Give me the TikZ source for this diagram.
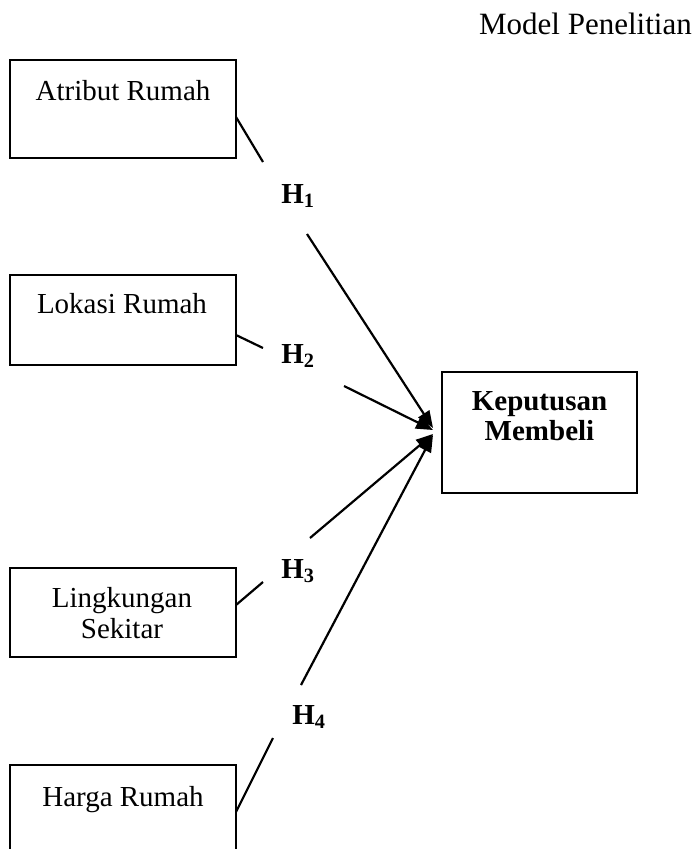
\documentclass[tikz,border=0pt]{standalone}
\usepackage{fontspec}
\setmainfont{Liberation Serif}
\usetikzlibrary{arrows.meta}
\begin{document}
\begin{tikzpicture}[x=1pt,y=-1pt,
  boxnode/.style={draw,line width=1.8pt,rectangle,inner sep=0pt},
  txt/.style={font=\fontsize{29}{31}\selectfont,inner sep=0pt,anchor=base,align=center},
  hyp/.style={font=\fontsize{29}{31}\selectfont\bfseries,inner sep=0pt,anchor=base},
  conn/.style={line width=2.2pt},
  arr/.style={line width=2.2pt,-{Triangle[length=17pt,width=13pt]}}]
\useasboundingbox (0,0) rectangle (697,849);
\clip (0,0) rectangle (697,849);
% boxes
\node[boxnode,minimum width=226pt,minimum height=98pt] (atr) at (123,109) {};
\node[boxnode,minimum width=226pt,minimum height=90pt] (lok) at (123,320) {};
\node[boxnode,minimum width=226pt,minimum height=89pt] (lin) at (123,612.5) {};
\node[boxnode,minimum width=226pt,minimum height=100pt] (har) at (123,815) {};
\node[boxnode,minimum width=195pt,minimum height=121pt] (kep) at (539.5,432.5) {};
% texts
\node[txt] (tatr) at (123,100) {Atribut Rumah};
\node[txt] (tlok) at (122,313) {Lokasi Rumah};
\node[txt] (tlin1) at (122,607) {Lingkungan};
\node[txt] (tlin2) at (122,638) {Sekitar};
\node[txt] (thar) at (123,806) {Harga Rumah};
\node[txt,font=\fontsize{29}{31}\selectfont\bfseries] (tkep1) at (539.5,410) {Keputusan};
\node[txt,font=\fontsize{29}{31}\selectfont\bfseries] (tkep2) at (539.5,440) {Membeli};
\node[txt,font=\fontsize{31}{33}\selectfont,anchor=base east] (title) at (692,34) {Model Penelitian};
% hypothesis labels
\node[hyp] (h1) at (298,203) {H\textsubscript{1}};
\node[hyp] (h2) at (298,363) {H\textsubscript{2}};
\node[hyp] (h3) at (298,578) {H\textsubscript{3}};
\node[hyp] (h4) at (309,724) {H\textsubscript{4}};
% connector points
\coordinate (a1) at (236,117);
\coordinate (b1) at (263,162);
\coordinate (c1) at (307,234);
\coordinate (t1) at (433,428);
\coordinate (a2) at (236,335);
\coordinate (b2) at (263,348);
\coordinate (c2) at (344,386);
\coordinate (t2) at (433,430);
\coordinate (a3) at (236,605);
\coordinate (b3) at (263,582);
\coordinate (c3) at (310,538);
\coordinate (t3) at (433,434);
\coordinate (a4) at (236,812);
\coordinate (b4) at (273,738);
\coordinate (c4) at (301,685);
\coordinate (t4) at (433,435);
\draw[conn] (a1) -- (b1);
\draw[arr] (c1) -- (t1);
\draw[conn] (a2) -- (b2);
\draw[arr] (c2) -- (t2);
\draw[conn] (a3) -- (b3);
\draw[arr] (c3) -- (t3);
\draw[conn] (a4) -- (b4);
\draw[arr] (c4) -- (t4);
\end{tikzpicture}
\end{document}
